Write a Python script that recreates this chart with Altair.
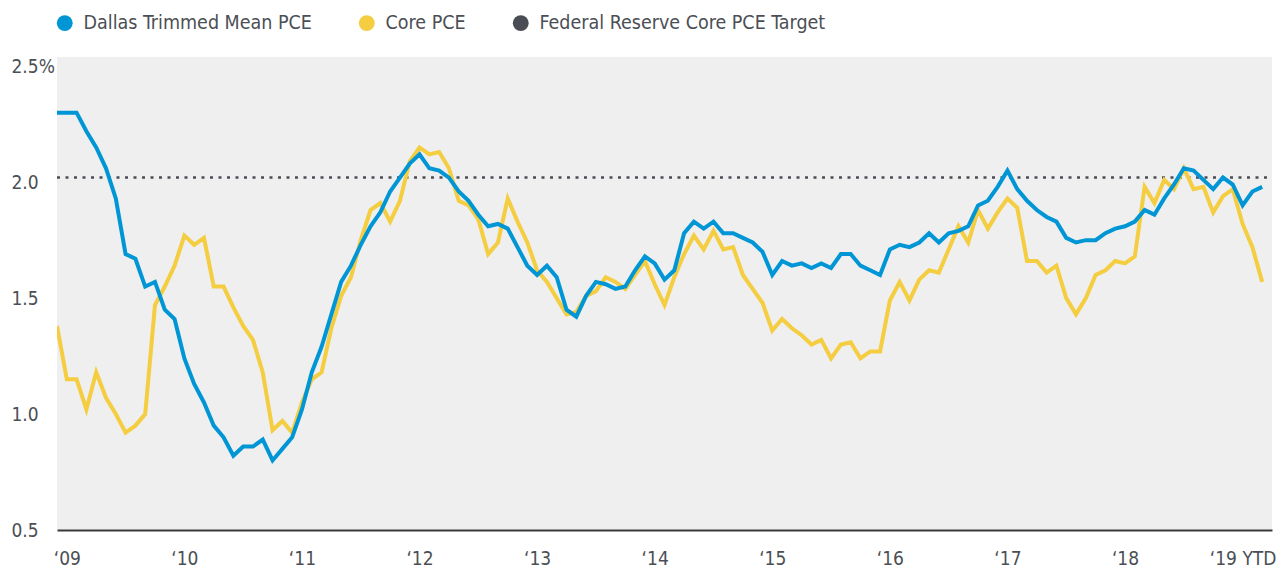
import json
import altair as alt
import pandas as pd

# Monthly observations, Jan 2009 – Apr 2019
months = [f"{y}-{m:02d}" for y in range(2009, 2020) for m in range(1, 13)][:124]

dallas = [
    2.30, 2.30, 2.30, 2.22, 2.15, 2.06, 1.93, 1.69, 1.67, 1.55, 1.57, 1.45,
    1.41, 1.24, 1.13, 1.05, 0.95, 0.90, 0.82, 0.86, 0.86, 0.89, 0.80, 0.85,
    0.90, 1.02, 1.18, 1.29, 1.43, 1.57, 1.64, 1.73, 1.81, 1.87, 1.96, 2.02,
    2.08, 2.12, 2.06, 2.05, 2.02, 1.96, 1.92, 1.86, 1.81, 1.82, 1.80, 1.72,
    1.64, 1.60, 1.64, 1.59, 1.45, 1.42, 1.51, 1.57, 1.56, 1.54, 1.55, 1.62,
    1.68, 1.65, 1.58, 1.62, 1.78, 1.83, 1.80, 1.83, 1.78, 1.78, 1.76, 1.74,
    1.70, 1.60, 1.66, 1.64, 1.65, 1.63, 1.65, 1.63, 1.69, 1.69, 1.64, 1.62,
    1.60, 1.71, 1.73, 1.72, 1.74, 1.78, 1.74, 1.78, 1.79, 1.81, 1.90, 1.92,
    1.98, 2.05, 1.97, 1.92, 1.88, 1.85, 1.83, 1.76, 1.74, 1.75, 1.75, 1.78,
    1.80, 1.81, 1.83, 1.88, 1.86, 1.93, 1.99, 2.06, 2.05, 2.01, 1.97, 2.02,
    1.99, 1.90, 1.96, 1.98,
]

core = [
    1.38, 1.15, 1.15, 1.02, 1.18, 1.07, 1.00, 0.92, 0.95, 1.00, 1.47, 1.55,
    1.64, 1.77, 1.73, 1.76, 1.55, 1.55, 1.46, 1.38, 1.32, 1.18, 0.93, 0.97,
    0.92, 1.05, 1.15, 1.18, 1.37, 1.51, 1.59, 1.75, 1.88, 1.91, 1.83, 1.92,
    2.09, 2.15, 2.12, 2.13, 2.06, 1.92, 1.90, 1.84, 1.69, 1.74, 1.93, 1.83,
    1.74, 1.62, 1.57, 1.50, 1.43, 1.44, 1.51, 1.53, 1.59, 1.57, 1.54, 1.60,
    1.66, 1.56, 1.47, 1.59, 1.69, 1.77, 1.71, 1.79, 1.71, 1.72, 1.60, 1.54,
    1.48, 1.36, 1.41, 1.37, 1.34, 1.30, 1.32, 1.24, 1.30, 1.31, 1.24, 1.27,
    1.27, 1.49, 1.57, 1.49, 1.58, 1.62, 1.61, 1.71, 1.81, 1.74, 1.88, 1.80,
    1.87, 1.93, 1.89, 1.66, 1.66, 1.61, 1.64, 1.50, 1.43, 1.50, 1.60, 1.62,
    1.66, 1.65, 1.68, 1.98, 1.91, 2.01, 1.97, 2.06, 1.97, 1.98, 1.87, 1.94,
    1.97, 1.82, 1.72, 1.57,
]

target_value = 2.02
series_names = ["Dallas Trimmed Mean PCE", "Core PCE", "Federal Reserve Core PCE Target"]
series_colors = ["#0096d6", "#f4cd40", "#4a4d53"]
year_labels = ["\u201809", "\u201810", "\u201811", "\u201812", "\u201813", "\u201814",
               "\u201815", "\u201816", "\u201817", "\u201818", "\u201819 YTD"]
y_ticks = [0.5, 1.0, 1.5, 2.0, 2.5]

idx = list(range(len(months)))
df_dallas = pd.DataFrame({"m": idx, "month": months, "value": dallas})
df_core = pd.DataFrame({"m": idx, "month": months, "value": core})
df_target = pd.DataFrame({"m": [0, len(months)], "value": [target_value, target_value]})
df_legend = pd.DataFrame({"m": [0, 0, 0], "value": [target_value] * 3, "series": series_names})

FONT = "DejaVu Sans Condensed, Liberation Sans Narrow, sans-serif"
TEXT = "#4b4f55"

x_ticks = [12 * k + 1 for k in range(len(year_labels))]
x_label_expr = f"{json.dumps(year_labels)}[round((datum.value - 1) / 12)]"
y_label_expr = "datum.value == 2.5 ? '2.5%' : format(datum.value, '.1f')"

x_enc = alt.X(
    "m:Q",
    scale=alt.Scale(domain=[0, len(months)], nice=False, zero=False),
    axis=alt.Axis(
        values=x_ticks, labelExpr=x_label_expr, title=None, grid=False, ticks=False,
        tickSize=0, domain=True, domainColor="#3a3a3a", domainWidth=2,
        labelPadding=19, labelFontSize=19, labelFont=FONT, labelColor=TEXT,
        labelAlign="center", labelFlush=False, labelOverlap=False,
    ),
)
y_enc = alt.Y(
    "value:Q",
    scale=alt.Scale(domain=[0.5, 2.54], nice=False, zero=False),
    axis=alt.Axis(
        values=y_ticks, labelExpr=y_label_expr, title=None, grid=False, ticks=False,
        tickSize=0, domain=False, labelPadding=46, labelAlign="left",
        labelBaseline="middle", labelFontSize=19, labelFont=FONT, labelColor=TEXT,
        labelFlush=False, labelOverlap=False,
    ),
)

target = alt.Chart(df_target).mark_line(
    color=series_colors[2], strokeWidth=2.5, strokeDash=[3, 5.5], clip=True
).encode(x=x_enc, y=y_enc)

core_line = alt.Chart(df_core).mark_line(
    color=series_colors[1], strokeWidth=4, clip=True
).encode(x=x_enc, y=y_enc)

dallas_line = alt.Chart(df_dallas).mark_line(
    color=series_colors[0], strokeWidth=4, clip=True
).encode(x=x_enc, y=y_enc)

legend_pts = alt.Chart(df_legend).mark_point(filled=True, opacity=0, size=10).encode(
    x=x_enc,
    y=y_enc,
    color=alt.Color(
        "series:N",
        scale=alt.Scale(domain=series_names, range=series_colors),
        sort=series_names,
        legend=alt.Legend(
            title=None, orient="none", direction="horizontal", legendX=-2, legendY=-44,
            symbolType="circle", symbolSize=250, symbolOpacity=1, symbolStrokeWidth=0,
            labelFontSize=19.5, labelFont=FONT, labelColor=TEXT, labelOffset=9,
            columnPadding=45, padding=0, labelLimit=400,
        ),
    ),
)

chart = (
    alt.layer(target, core_line, dallas_line, legend_pts)
    .properties(
        width=1215, height=473,
        autosize=alt.AutoSizeParams(type="none"),
        padding={"left": 57, "top": 57, "right": 16, "bottom": 38},
        background="white",
    )
    .configure_view(fill="#efefef", stroke=None)
)

chart.save("out.html", embed_options={"renderer": "svg", "actions": False})
